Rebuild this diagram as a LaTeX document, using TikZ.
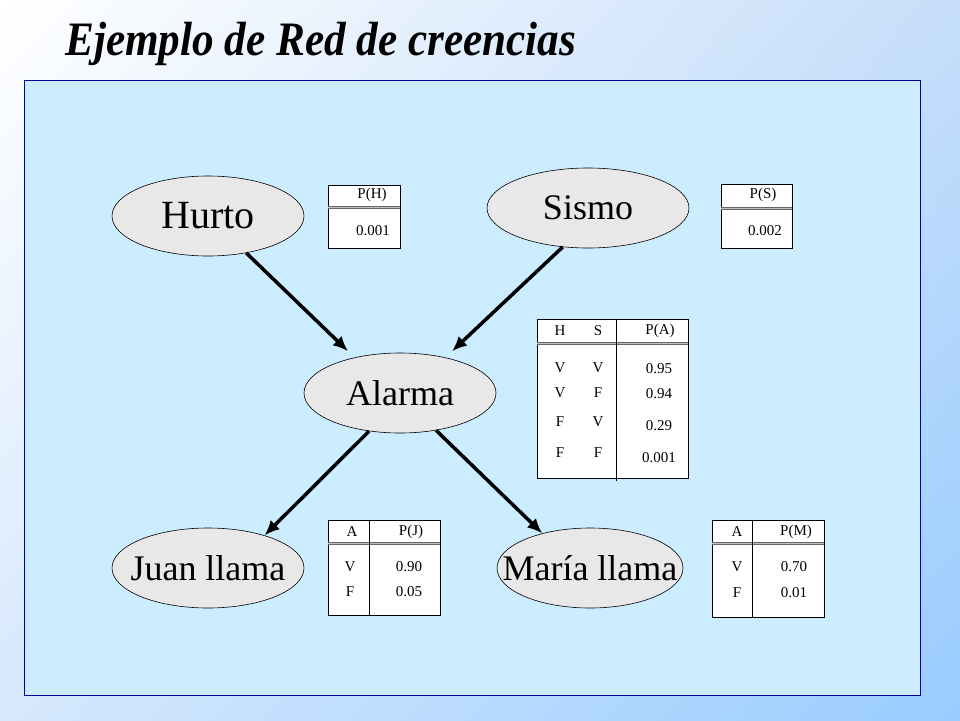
\documentclass[tikz,border=0pt]{standalone}
\usepackage{fontspec}
\setmainfont{Liberation Serif}
\usetikzlibrary{arrows.meta}
\usetikzlibrary{shapes.geometric}
\usetikzlibrary{shadings}
\usetikzlibrary{calc}
\definecolor{fondo}{RGB}{204,236,255}
\definecolor{marco}{RGB}{0,0,160}
\definecolor{nodocolor}{RGB}{232,232,232}
\definecolor{azul}{RGB}{153,204,255}
\definecolor{azulsup}{RGB}{198,222,250}
\definecolor{azulinf}{RGB}{214,232,253}

\begin{document}
\begin{tikzpicture}[x=1pt,y=-1pt,
    nodo/.style={ellipse,draw=black,line width=0.6pt,fill=nodocolor,minimum width=192pt,minimum height=80pt,inner sep=0pt,font=\fontsize{36}{36}\selectfont},
    flecha/.style={line width=3.5pt,-{Latex[length=15pt,width=13pt]}},
    tabla/.style={draw=black,fill=white,line width=0.6pt},
    doble/.style={draw=black!60,line width=3pt,postaction={draw=black!25,line width=0.8pt}},
    celda/.style={font=\fontsize{15}{15}\selectfont,inner sep=0pt}]
\useasboundingbox (0,0) rectangle (960,720);
\shade[upper left=white,upper right=azulsup,lower left=azulinf,lower right=azul] (0,0) rectangle (960,720);
\node[anchor=base west,inner sep=0pt] (titulo) at (65,55) {\fontsize{48}{48}\selectfont\bfseries\itshape\scalebox{0.9}[1]{Ejemplo de Red de creencias}};
\draw[marco,fill=fondo,line width=1pt] (24,80) rectangle (920,695);

% nodos
\node[nodo,font=\fontsize{40}{40}\selectfont] (hurto) at (208,216) {\makebox[0pt]{Hurto}};
\node[nodo,minimum width=202pt] (sismo) at (588,208) {\makebox[0pt]{Sismo}};
\node[nodo] (alarma) at (400,393) {\makebox[0pt]{Alarma}};
\node[nodo] (juan) at (208,568) {\makebox[0pt]{Juan llama}};
\node[nodo,minimum width=186pt] (maria) at (590,568) {\makebox[0pt]{María llama}};

% arcos
\draw[flecha,shorten >=9pt] (hurto.-44) -- (alarma.142);
\draw[flecha,shorten >=9pt] (sismo.-123) -- (alarma.38);
\draw[flecha] (alarma.-129) -- (juan.30);
\draw[flecha] (alarma.-46) -- (maria.144);

% P(H)
\draw[tabla] (328,185) rectangle (400,248);
\draw[doble] (328,207) -- (400,207);
\node[celda] (pH) at (372,195) {P(H)};
\node[celda] (vH) at (373,231) {0.001};
% P(S)
\draw[tabla] (721,184) rectangle (792,248);
\draw[doble] (721,208) -- (792,208);
\node[celda] (pS) at (763,195) {P(S)};
\node[celda] (vS) at (765,231) {0.002};
% P(A)
\draw[tabla] (537,319) rectangle (688,478);
\draw[doble] (537,343) -- (688,343);
\draw[line width=0.8pt] (616,319) -- (616,481);
\node[celda] (hA) at (560,331) {H};
\node[celda] (sA) at (598,331) {S};
\node[celda] (pA) at (660,331) {P(A)};
\foreach \h/\s/\p/\y/\yp in {V/V/0.95/368/369, V/F/0.94/393/394, F/V/0.29/422/426, F/F/0.001/453/458}
    {\node[celda] (h\y) at (560,\y) {\h};
     \node[celda] (s\y) at (598,\y) {\s};
     \node[celda] (p\y) at (659,\yp) {\p};}
% P(J)
\draw[tabla] (328,520) rectangle (440,615);
\draw[doble] (328,543) -- (440,543);
\draw[line width=0.8pt] (369,520) -- (369,615);
\node[celda] (aJ) at (352,532) {A};
\node[celda] (pJ) at (411,532) {P(J)};
\node[celda] (vJ) at (350,567) {V};
\node[celda] (v1J) at (409,567) {0.90};
\node[celda] (fJ) at (350,592) {F};
\node[celda] (f1J) at (409,592) {0.05};
% P(M)
\draw[tabla] (712,520) rectangle (824,617);
\draw[doble] (712,543) -- (824,543);
\draw[line width=0.8pt] (752,520) -- (752,617);
\node[celda] (aM) at (737,532) {A};
\node[celda] (pM) at (796,532) {P(M)};
\node[celda] (vM) at (737,567) {V};
\node[celda] (v1M) at (794,567) {0.70};
\node[celda] (fM) at (737,593) {F};
\node[celda] (f1M) at (794,593) {0.01};
\end{tikzpicture}
\end{document}
